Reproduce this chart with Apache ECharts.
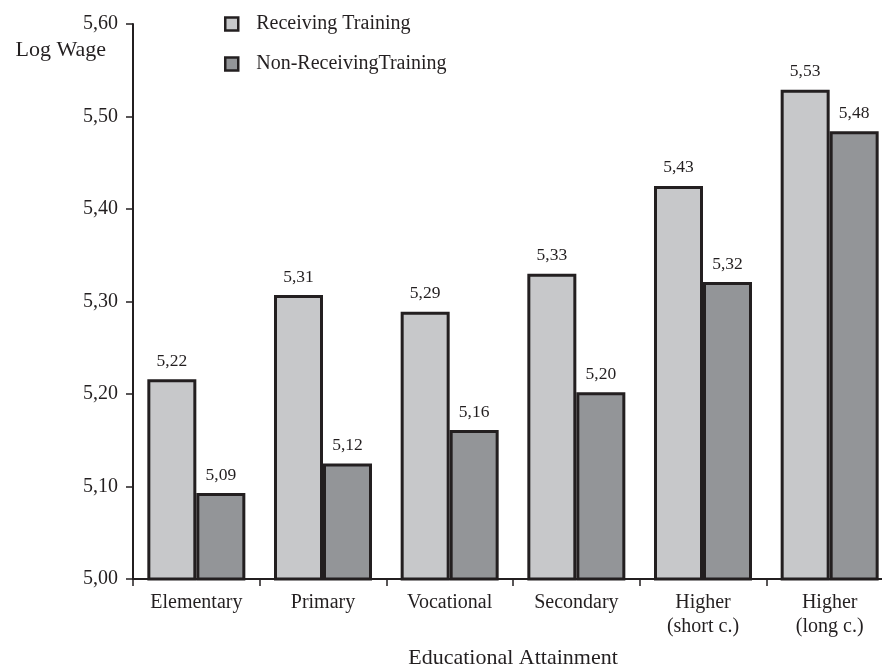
<!DOCTYPE html>
<html>
<head>
<meta charset="utf-8">
<script src="https://cdn.jsdelivr.net/npm/echarts@6/dist/echarts.min.js"></script>
<style>
  html, body { margin: 0; padding: 0; background: #fff; }
  #chart { width: 882px; height: 667px; }
</style>
</head>
<body>
<div id="chart"></div>
<script>
const categories = ["Elementary", "Primary", "Vocational", "Secondary", "Higher\n(short c.)", "Higher\n(long c.)"]
const receiving = [5.216, 5.307, 5.289, 5.330, 5.425, 5.529]
const nonReceiving = [5.093, 5.125, 5.161, 5.202, 5.321, 5.484]
const receivingLabels = ["5,22", "5,31", "5,29", "5,33", "5,43", "5,53"]
const nonReceivingLabels = ["5,09", "5,12", "5,16", "5,20", "5,32", "5,48"]

const font = "Liberation Serif"
const ink = "#231f20"

const chart = echarts.init(document.getElementById("chart"))

const barSeries = (name, values, labels, color) => ({
  name,
  type: "bar",
  data: values,
  barWidth: 49,
  barGap: "0%",
  itemStyle: { color, borderColor: ink, borderWidth: 3 },
  label: {
    show: true,
    position: "top",
    distance: 9,
    formatter: (p) => labels[p.dataIndex],
    color: ink,
    fontFamily: font,
    fontSize: 17.5,
  },
  animation: false,
})

chart.setOption({
  backgroundColor: "#fff",
  legend: {
    orient: "vertical",
    left: 219,
    top: 9,
    itemWidth: 13,
    itemHeight: 13,
    itemGap: 20,
    icon: "rect",
    itemStyle: { borderColor: ink, borderWidth: 2.5 },
    textStyle: { fontFamily: font, fontSize: 20, color: ink, padding: [0, 0, 0, 13] },
    data: ["Receiving Training", "Non-ReceivingTraining"],
  },
  grid: { left: 133, top: 24, height: 555, width: 760, outerBoundsMode: "none" },
  xAxis: {
    type: "category",
    data: categories,
    name: "Educational Attainment",
    nameLocation: "middle",
    nameGap: 68,
    nameTextStyle: { fontFamily: font, fontSize: 22, color: ink },
    axisLine: { lineStyle: { color: ink, width: 2 } },
    axisTick: { show: true, length: 7, lineStyle: { color: ink, width: 1.5 } },
    axisLabel: { fontFamily: font, fontSize: 20, color: ink, margin: 12, lineHeight: 24 },
  },
  yAxis: {
    type: "value",
    min: 5.0,
    max: 5.6,
    interval: 0.1,
    name: "Log Wage",
    nameLocation: "end",
    nameGap: -26,
    nameTextStyle: { fontFamily: font, fontSize: 22, color: ink, align: "right", verticalAlign: "middle", padding: [0, 27, 0, 0] },
    axisLine: { show: true, lineStyle: { color: ink, width: 2 } },
    axisTick: { show: true, length: 7, lineStyle: { color: ink, width: 1.5 } },
    splitLine: { show: false },
    axisLabel: {
      fontFamily: font,
      fontSize: 20,
      color: ink,
      margin: 15,
      formatter: (v) => v.toFixed(2).replace(".", ","),
    },
  },
  series: [
    barSeries("Receiving Training", receiving, receivingLabels, "#c7c8ca"),
    barSeries("Non-ReceivingTraining", nonReceiving, nonReceivingLabels, "#939598"),
  ],
})
</script>
</body>
</html>
